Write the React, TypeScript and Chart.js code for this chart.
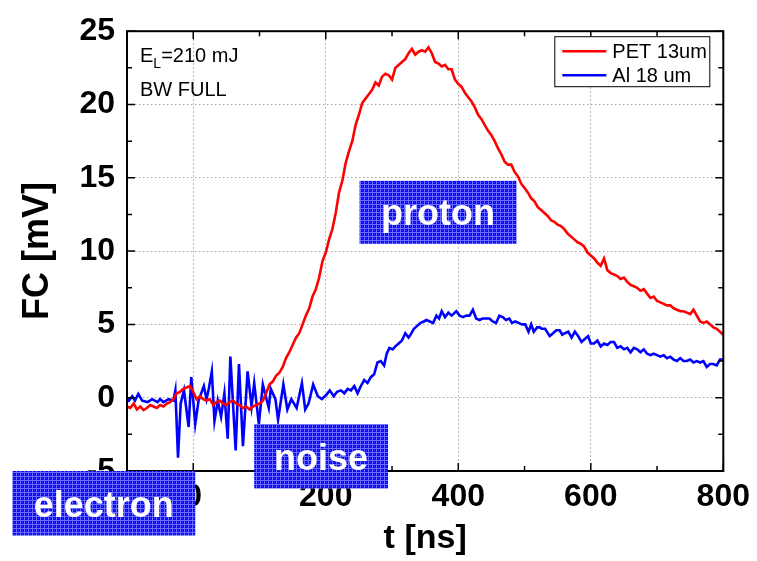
import React, { useEffect, useRef } from 'react';
import { Chart, registerables } from 'chart.js';

Chart.register(...registerables);

const FONT = '"Liberation Sans", Arial, Helvetica, sans-serif';

// Axis ranges and ticks
const X_MIN = -100;
const X_MAX = 800;
const Y_MIN = -5;
const Y_MAX = 25;
const xMajorTicks = [0, 200, 400, 600, 800];
const xMinorTicks = [-100, 100, 300, 500, 700];
const yMajorTicks = [-5, 0, 5, 10, 15, 20, 25];
const yMinorTicks = [-2.5, 2.5, 7.5, 12.5, 17.5, 22.5];

const seriesNames = ['PET 13um', 'Al 18 um'];
const seriesColors = ['#ff0000', '#0000ff'];

// PET 13um: sampled every 5 ns starting at -100 ns (values in mV)
const petStartNs = -100;
const petStepNs = 5;
const petValues = [
  -0.6, -0.7, -0.4, -0.8, -0.6, -0.85, -0.7, -0.5, -0.6, -0.7,
  -0.5, -0.6, -0.4, -0.3, -0.1, 0.3, 0.4, 0.6, 0.7, 0.8,
  0.4, -0.1, 0.1, -0.1, -0.2, -0.1, -0.5, -0.3, -0.2, -0.4,
  -0.5, -0.3, -0.2, -0.4, -0.5, -0.7, -0.6, -0.8, -0.6, -0.5,
  -0.4, -0.2, 0.3, 0.9, 1.1, 1.5, 1.7, 2.1, 2.7, 3.1,
  3.6, 4.1, 4.4, 5.0, 5.6, 6.1, 6.9, 7.4, 8.2, 9.3,
  9.9, 10.8, 11.5, 12.6, 14.0, 14.8, 16.0, 16.8, 17.5, 18.6,
  19.3, 20.1, 20.4, 20.7, 21.0, 21.5, 21.3, 21.9, 22.1, 22.0,
  21.7, 22.5, 22.7, 22.9, 23.1, 23.5, 23.8, 23.4, 23.6, 23.7,
  23.6, 23.9, 23.5, 22.9, 22.8, 22.6, 22.7, 22.4, 22.4, 21.7,
  21.4, 21.2, 20.8, 20.5, 20.2, 19.8, 19.3, 19.0, 18.6, 18.2,
  17.9, 17.5, 17.0, 16.6, 16.1, 15.9, 15.9, 15.4, 15.1, 14.6,
  14.3, 14.0, 13.6, 13.4, 13.0, 12.8, 12.6, 12.4, 12.1, 12.0,
  11.8, 11.7, 11.5, 11.2, 11.0, 10.8, 10.6, 10.5, 10.3, 9.9,
  9.7, 9.5, 9.2, 9.0, 9.5, 8.7, 8.5, 8.4, 8.3, 8.1,
  8.2, 7.9, 7.7, 7.6, 7.5, 7.3, 7.4, 7.1, 6.8, 6.9,
  6.6, 6.5, 6.4, 6.3, 6.3, 6.1, 6.0, 5.9, 5.9, 5.8,
  5.7, 6.0, 5.6, 5.2, 5.1, 5.2, 5.0, 4.8, 4.7, 4.5,
  4.3,
];

// Al 18 um: sample times (ns) and values (mV)
const alTimes = [
  -100, -97, -92, -88, -83, -77, -69, -62, -54, -50,
  -45, -37, -30, -27, -23, -19, -14, -7, -3, 3,
  8, 16, 20, 23, 28, 32, 37, 42, 47, 52,
  56, 64, 69, 75, 82, 88, 92, 99, 105, 110,
  114, 117, 124, 128, 136, 142, 148, 156, 164, 169,
  174, 181, 188, 194, 201, 206, 212, 217, 223, 228,
  233, 238, 243, 248, 253, 258, 263, 268, 273, 278,
  283, 288, 292, 296, 301, 305, 310, 315, 320, 325,
  328, 333, 338, 343, 348, 352, 357, 362, 367, 371,
  375, 380, 385, 390, 397, 402, 407, 412, 417, 422,
  427, 432, 437, 442, 447, 452, 457, 462, 467, 472,
  477, 481, 486, 491, 496, 501, 506, 510, 514, 519,
  523, 526, 531, 538, 543, 548, 553, 557, 561, 566,
  571, 576, 581, 586, 591, 596, 600, 605, 610, 615,
  620, 625, 630, 635, 640, 645, 650, 655, 660, 665,
  670, 675, 680, 685, 690, 695, 700, 705, 710, 715,
  720, 725, 730, 735, 740, 745, 750, 755, 760, 765,
  770, 775, 780, 785, 790, 795, 800,
];
const alValues = [
  0.0, -0.2, 0.1, -0.2, 0.25, -0.2, -0.3, -0.1, -0.3, -0.1,
  -0.3, -0.1, -0.2, 0.5, -4.1, -0.4, 0.5, -2.0, 1.4, -1.8,
  -0.2, 0.8, -0.1, 0.5, 1.8, -1.6, -0.2, -1.3, 0.3, -2.8,
  2.8, -3.6, 2.3, -3.3, 1.8, -0.6, 1.0, -1.8, 0.9, 0.0,
  -0.7, 0.6, -0.1, -1.5, 0.9, -0.8, -0.1, -0.7, 1.0, -0.8,
  -0.4, 0.9, 0.1, -0.1, 0.2, 0.5, 0.1, 0.4, 0.5, 0.3,
  0.6, 0.5, 0.8, 0.3, 0.8, 1.2, 1.0, 1.4, 1.6, 2.4,
  2.5, 2.2, 3.0, 3.4, 3.3, 3.5, 3.7, 3.9, 4.4, 4.1,
  4.3, 4.7, 4.9, 5.1, 5.2, 5.3, 5.2, 5.1, 5.6, 5.4,
  5.9, 5.5, 5.8, 5.6, 5.9, 5.6, 5.5, 5.6, 5.6, 6.0,
  5.4, 5.3, 5.4, 5.4, 5.4, 5.2, 5.1, 5.6, 5.5, 5.3,
  5.4, 5.1, 5.2, 5.1, 5.0, 5.0, 4.5, 5.0, 4.5, 4.8,
  4.8, 4.7, 4.7, 4.2, 4.4, 4.6, 4.6, 4.3, 4.4, 4.5,
  4.1, 4.5, 4.2, 3.8, 4.0, 4.2, 3.7, 3.7, 3.9, 3.5,
  3.7, 3.6, 3.8, 3.8, 3.4, 3.5, 3.3, 3.4, 3.1, 3.4,
  3.3, 3.1, 3.3, 3.0, 2.9, 3.0, 2.9, 2.8, 2.9, 2.7,
  2.8, 2.6, 2.5, 2.7, 2.5, 2.5, 2.6, 2.4, 2.5, 2.4,
  2.5, 2.1, 2.3, 2.3, 2.2, 2.6, 2.6,
];

// Highlighted regions (data coordinates: t0, t1 in ns, v0, v1 in mV)
const regionLabels = ['proton', 'noise', 'electron'];
const regionT0 = [251, 92, -273];
const regionT1 = [488, 294, 3];
const regionV0 = [10.5, -6.2, -9.4];
const regionV1 = [14.8, -1.8, -5.0];

const petPoints = petValues.map((v, i) => ({ x: petStartNs + i * petStepNs, y: v }));
const alPoints = alTimes.map((t, i) => ({ x: t, y: alValues[i] }));

function makeHatch(): CanvasPattern | string {
  const c = document.createElement('canvas');
  c.width = 4;
  c.height = 4;
  const g = c.getContext('2d');
  if (!g) return '#2c2cff';
  g.fillStyle = '#0808ff';
  g.fillRect(0, 0, 4, 4);
  g.fillStyle = '#6c6cff';
  g.fillRect(0, 0, 4, 1);
  g.fillRect(0, 0, 1, 4);
  g.fillStyle = '#3a3aff';
  g.fillRect(2, 2, 1, 1);
  const p = g.createPattern(c, 'repeat');
  return p || '#2c2cff';
}

const framePlugin = {
  id: 'frameAndNotes',
  afterDraw(chart: any) {
    const { ctx, chartArea: a, scales } = chart;
    const xs = scales.x;
    const ys = scales.y;
    ctx.save();

    // frame
    ctx.strokeStyle = '#000';
    ctx.lineWidth = 2;
    ctx.strokeRect(a.left, a.top, a.right - a.left, a.bottom - a.top);

    // inward ticks on all four sides
    ctx.lineWidth = 1.5;
    ctx.beginPath();
    const xt = (vals: number[], len: number) => {
      vals.forEach((v) => {
        const px = xs.getPixelForValue(v);
        ctx.moveTo(px, a.bottom);
        ctx.lineTo(px, a.bottom - len);
        ctx.moveTo(px, a.top);
        ctx.lineTo(px, a.top + len);
      });
    };
    const yt = (vals: number[], len: number) => {
      vals.forEach((v) => {
        const py = ys.getPixelForValue(v);
        ctx.moveTo(a.left, py);
        ctx.lineTo(a.left + len, py);
        ctx.moveTo(a.right, py);
        ctx.lineTo(a.right - len, py);
      });
    };
    xt(xMajorTicks, 8);
    xt(xMinorTicks, 5);
    yt(yMajorTicks, 8);
    yt(yMinorTicks, 5);
    ctx.stroke();

    // legend
    const lx = a.right - 169;
    const ly = a.top + 5;
    ctx.fillStyle = '#fff';
    ctx.fillRect(lx, ly, 155, 50);
    ctx.strokeStyle = '#000';
    ctx.lineWidth = 1;
    ctx.strokeRect(lx + 0.5, ly + 0.5, 155, 50);
    ctx.font = `20px ${FONT}`;
    ctx.textBaseline = 'middle';
    ctx.textAlign = 'left';
    seriesNames.forEach((name, i) => {
      const yy = ly + 15 + i * 24;
      ctx.strokeStyle = seriesColors[i];
      ctx.lineWidth = 2.5;
      ctx.beginPath();
      ctx.moveTo(lx + 8, yy);
      ctx.lineTo(lx + 52, yy);
      ctx.stroke();
      ctx.fillStyle = '#000';
      ctx.fillText(name, lx + 58, yy + 1);
    });

    // condition notes
    ctx.fillStyle = '#000';
    ctx.textBaseline = 'alphabetic';
    const nx = a.left + 13;
    ctx.font = `20px ${FONT}`;
    ctx.fillText('E', nx, a.top + 31);
    const eW = ctx.measureText('E').width;
    ctx.font = `14px ${FONT}`;
    ctx.fillText('L', nx + eW, a.top + 37);
    const lW = ctx.measureText('L').width;
    ctx.font = `20px ${FONT}`;
    ctx.fillText('=210 mJ', nx + eW + lW, a.top + 31);
    ctx.fillText('BW FULL', nx, a.top + 65);

    // highlighted regions
    const hatch = makeHatch();
    regionLabels.forEach((label, i) => {
      const x0 = xs.getPixelForValue(regionT0[i]);
      const x1 = xs.getPixelForValue(regionT1[i]);
      const y0 = ys.getPixelForValue(regionV1[i]);
      const y1 = ys.getPixelForValue(regionV0[i]);
      ctx.fillStyle = hatch as any;
      ctx.fillRect(x0, y0, x1 - x0, y1 - y0);
      ctx.fillStyle = '#fff';
      ctx.font = `bold 36px ${FONT}`;
      ctx.textAlign = 'center';
      ctx.textBaseline = 'alphabetic';
      ctx.fillText(label, (x0 + x1) / 2, y1 - 19);
    });

    ctx.restore();
  },
};

export default function App() {
  const ref = useRef<HTMLCanvasElement>(null);

  useEffect(() => {
    const canvas = ref.current;
    if (!canvas) return;
    const edgeTransparent = (edges: number[]) => (c: any) =>
      c.tick && edges.includes(c.tick.value) ? 'rgba(0,0,0,0)' : '#a8a8a8';

    const chart = new Chart(canvas, {
      type: 'line',
      data: {
        datasets: [
          {
            label: seriesNames[0],
            data: petPoints,
            borderColor: seriesColors[0],
            borderWidth: 2.6,
            pointRadius: 0,
            tension: 0,
            fill: false,
          },
          {
            label: seriesNames[1],
            data: alPoints,
            borderColor: seriesColors[1],
            borderWidth: 2.6,
            pointRadius: 0,
            tension: 0,
            fill: false,
          },
        ],
      },
      options: {
        responsive: false,
        animation: false,
        devicePixelRatio: 1,
        layout: { padding: { left: 0, right: 28, top: 26, bottom: 0 } },
        plugins: { legend: { display: false }, tooltip: { enabled: false } },
        scales: {
          x: {
            type: 'linear',
            min: X_MIN,
            max: X_MAX,
            afterBuildTicks: (s: any) => {
              s.ticks = xMajorTicks.map((v) => ({ value: v }));
            },
            afterFit: (s: any) => {
              s.height = 90;
            },
            grid: { color: edgeTransparent([X_MIN, X_MAX]), lineWidth: 1, drawTicks: false },
            border: { display: false, dash: [1.5, 2.5] },
            ticks: {
              padding: 7,
              color: '#000',
              font: { family: FONT, size: 32, weight: 'bold' },
              maxRotation: 0,
            },
            title: {
              display: true,
              text: 't [ns]',
              color: '#000',
              font: { family: FONT, size: 34, weight: 'bold' },
              padding: { top: 0, bottom: 2 },
            },
          },
          y: {
            type: 'linear',
            min: Y_MIN,
            max: Y_MAX,
            afterBuildTicks: (s: any) => {
              s.ticks = yMajorTicks.map((v) => ({ value: v }));
            },
            afterFit: (s: any) => {
              s.width = 127;
            },
            grid: { color: edgeTransparent([Y_MIN, Y_MAX]), lineWidth: 1, drawTicks: false },
            border: { display: false, dash: [1.5, 2.5] },
            ticks: {
              padding: 12,
              color: '#000',
              font: { family: FONT, size: 32, weight: 'bold' },
            },
            title: {
              display: true,
              text: 'FC [mV]',
              color: '#000',
              font: { family: FONT, size: 36, weight: 'bold' },
              padding: { top: 16, bottom: 0 },
            },
          },
        },
      } as any,
      plugins: [framePlugin],
    });
    return () => chart.destroy();
  }, []);

  return (
    <div style={{ position: 'absolute', left: 0, top: 0, width: 757, height: 561, background: '#fff' }}>
      <canvas ref={ref} width={757} height={561} style={{ display: 'block' }} />
    </div>
  );
}
